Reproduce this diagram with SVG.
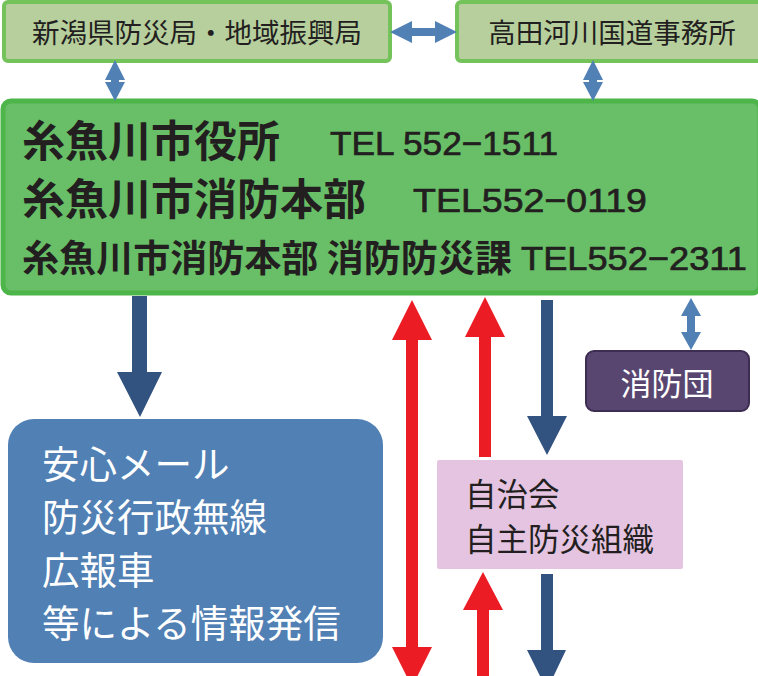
<svg xmlns="http://www.w3.org/2000/svg" width="758" height="676" viewBox="0 0 758 676">
<style>
.jp{font-family:"Noto Sans CJK JP","Noto Sans",sans-serif}
.tel{font-family:"Liberation Sans","DejaVu Sans",sans-serif;fill:#231f20;stroke:#231f20;stroke-width:0.7}
.dark{fill:#231f20}
.wh{fill:#ffffff}
.top{fill:#b7cf9d;stroke:#74c25a;stroke-width:4}
.lb{fill:#5080b4}
.db{fill:#325280}
.red{fill:#ec1c24}
</style>
<rect width="758" height="676" fill="#ffffff"/>
<g id="node-niigata">
<rect class="top" x="4" y="2" width="386" height="59" rx="4"/>
<text class="jp dark" x="197" y="43" font-size="27.5" text-anchor="middle">新潟県防災局・地域振興局</text>
</g>
<g id="node-takada">
<rect class="top" x="457" y="2" width="305" height="59" rx="4"/>
<text class="jp dark" x="612" y="43" font-size="27.5" text-anchor="middle">高田河川国道事務所</text>
</g>
<g id="node-city">
<rect x="3" y="101" width="757" height="192" rx="8" fill="#68bf67" stroke="#4db54a" stroke-width="5"/>
<text class="jp dark" x="22" y="157" font-size="43" font-weight="bold">糸魚川市役所</text>
<text class="tel" x="330" y="155" font-size="34" textLength="228" lengthAdjust="spacingAndGlyphs">TEL 552−1511</text>
<text class="jp dark" x="22" y="215" font-size="43" font-weight="bold">糸魚川市消防本部</text>
<text class="tel" x="413" y="212" font-size="34" textLength="234" lengthAdjust="spacingAndGlyphs">TEL552−0119</text>
<text class="jp dark" x="22" y="272" font-size="37" font-weight="bold" textLength="490" lengthAdjust="spacingAndGlyphs">糸魚川市消防本部 消防防災課</text>
<text class="tel" x="521" y="270" font-size="34" textLength="226" lengthAdjust="spacingAndGlyphs">TEL552−2311</text>
</g>
<g id="node-info">
<rect x="8" y="419" width="375" height="244" rx="26" fill="#5080b4"/>
<text class="jp wh" x="42" y="478" font-size="37.5">安心メール</text>
<text class="jp wh" x="42" y="531" font-size="37.5">防災行政無線</text>
<text class="jp wh" x="42" y="584" font-size="37.5">広報車</text>
<text class="jp wh" x="42" y="637" font-size="37.5">等による情報発信</text>
</g>
<g id="node-shobodan">
<rect x="586" y="351" width="163" height="60" rx="8" fill="#584670" stroke="#3e2d52" stroke-width="2"/>
<text class="jp wh" x="667" y="395" font-size="31" text-anchor="middle">消防団</text>
</g>
<g id="node-jichikai">
<rect x="437" y="460" width="246" height="109" rx="2" fill="#e4c4e0"/>
<text class="jp dark" x="465" y="506" font-size="31.5">自治会</text>
<text class="jp dark" x="465" y="551" font-size="31.5">自主防災組織</text>
</g>
<g id="connectors">
<polygon class="lb" points="390,32 412,21 412,28 435,28 435,21 457,32 435,43 435,36 412,36 412,43"/>
<polygon class="lb" points="115,60 125,80 119,80 119,82 125,82 115,101 105,82 111,82 111,80 105,80"/>
<polygon class="lb" points="593,60 603,80 597,80 597,82 603,82 593,101 583,82 589,82 589,80 583,80"/>
<polygon class="lb" points="691,298 701,316 695,316 695,332 701,332 691,350 681,332 687,332 687,316 681,316"/>
<polygon class="db" points="132,296 147,296 147,372 162,372 140,417 117,372 132,372"/>
<polygon class="red" points="412,300 432,340 418,340 418,647 432,647 412,687 392,647 406,647 406,340 392,340"/>
<polygon class="red" points="485,297 505,337 491,337 491,457 479,457 479,337 465,337"/>
<polygon class="red" points="483,572 503,610 489,610 489,676 477,676 477,610 463,610"/>
<polygon class="db" points="541,300 553,300 553,416 567,416 547,455 527,416 541,416"/>
<polygon class="db" points="541,574 553,574 553,650 566,650 547,690 527,650 541,650"/>
</g>
</svg>
